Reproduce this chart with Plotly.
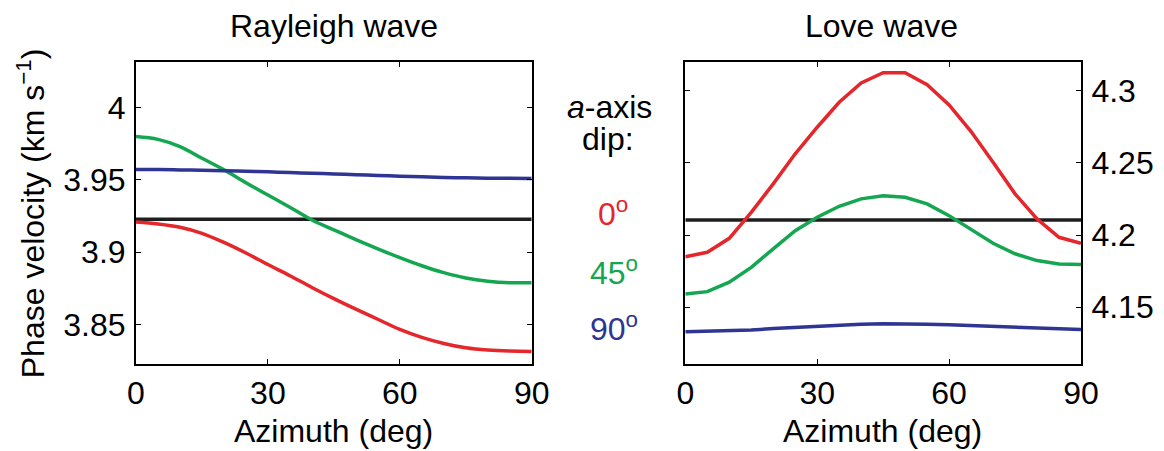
import plotly.graph_objects as go

# ---- data ----
azimuth = [0, 5, 10, 15, 20, 25, 30, 35, 40, 45, 50, 55, 60, 65, 70, 75, 80, 85, 90]

# Rayleigh wave phase velocity (km/s)
ray_dip0 = [3.9210, 3.9196, 3.9173, 3.9131, 3.9068, 3.8995, 3.8915, 3.8838, 3.8757, 3.8680,
            3.8607, 3.8537, 3.8467, 3.8412, 3.8370, 3.8340, 3.8324, 3.8317, 3.8315]
ray_dip45 = [3.9800, 3.9780, 3.9730, 3.9650, 3.9570, 3.9480, 3.9396, 3.9311, 3.9223, 3.9155,
             3.9088, 3.9024, 3.8963, 3.8907, 3.8859, 3.8822, 3.8800, 3.8790, 3.8790]
ray_dip90 = [3.9572, 3.9571, 3.9569, 3.9567, 3.9564, 3.9560, 3.9556, 3.9551, 3.9546, 3.9541,
             3.9536, 3.9531, 3.9526, 3.9521, 3.9517, 3.9514, 3.9512, 3.9511, 3.9510]
ray_iso = [3.9228] * len(azimuth)

# Love wave phase velocity (km/s)
love_dip0 = [4.1850, 4.1880, 4.1977, 4.2157, 4.2354, 4.2562, 4.2746, 4.2919, 4.3053, 4.3123,
             4.3123, 4.3040, 4.2900, 4.2716, 4.2503, 4.2285, 4.2111, 4.1984, 4.1943]
love_dip45 = [4.1592, 4.1608, 4.1673, 4.1776, 4.1904, 4.2030, 4.2123, 4.2199, 4.2250, 4.2272,
              4.2261, 4.2215, 4.2134, 4.2037, 4.1943, 4.1870, 4.1823, 4.1800, 4.1795]
love_dip90 = [4.1331, 4.1333, 4.1337, 4.1343, 4.1352, 4.1361, 4.1370, 4.1377, 4.1383, 4.1386,
              4.1386, 4.1383, 4.1378, 4.1372, 4.1365, 4.1358, 4.1352, 4.1348, 4.1345]
love_iso = [4.2104] * len(azimuth)

x_ticks = [0, 30, 60, 90]
ray_yticks = [3.85, 3.9, 3.95, 4.0]
ray_yticklabels = ["3.85", "3.9", "3.95", "4"]
love_yticks = [4.15, 4.2, 4.25, 4.3]
love_yticklabels = ["4.15", "4.2", "4.25", "4.3"]

dip_labels = ["0<sup>o</sup>", "45<sup>o</sup>", "90<sup>o</sup>"]

RED = "#e5262b"
GREEN = "#14a650"
BLUE = "#2e3592"
BLACK = "#1e1e1e"
FONT = "Liberation Sans, Arial, Helvetica, sans-serif"
FS = 32

fig = go.Figure()

def add(x, y, color, xa, ya, shape="linear"):
    fig.add_trace(go.Scatter(x=x, y=y, mode="lines", xaxis=xa, yaxis=ya,
                             line=dict(color=color, width=3.5, shape=shape),
                             showlegend=False, hoverinfo="skip"))

add(azimuth, ray_iso, BLACK, "x", "y")
add(azimuth, ray_dip0, RED, "x", "y", "spline")
add(azimuth, ray_dip45, GREEN, "x", "y", "spline")
add(azimuth, ray_dip90, BLUE, "x", "y", "spline")
add(azimuth, love_iso, BLACK, "x2", "y2")
add(azimuth, love_dip0, RED, "x2", "y2")
add(azimuth, love_dip45, GREEN, "x2", "y2")
add(azimuth, love_dip90, BLUE, "x2", "y2")

common_x = dict(range=[0, 90], tickvals=x_ticks, ticks="inside", ticklen=5, tickwidth=1,
                tickcolor="black", showline=True, linecolor="black", linewidth=2,
                mirror="allticks", showgrid=False, zeroline=False, automargin=False,
                tickfont=dict(family=FONT, size=FS, color="black"), ticklabelstandoff=0)
common_y = dict(ticks="inside", ticklen=5, tickwidth=1, tickcolor="black", showline=True,
                linecolor="black", linewidth=2, mirror="allticks", showgrid=False,
                zeroline=False, automargin=False,
                tickfont=dict(family=FONT, size=FS, color="black"), ticklabelstandoff=2)

W, H = 1156, 443

fig.update_layout(
    width=W, height=H,
    margin=dict(l=0, r=0, t=0, b=0, autoexpand=False),
    paper_bgcolor="white", plot_bgcolor="white",
    font=dict(family=FONT, size=FS, color="black"),
    xaxis=dict(domain=[0.11073, 0.45303], anchor="y", **common_x),
    yaxis=dict(domain=[0.19639, 0.87923], anchor="x", range=[3.8228, 4.0318],
               tickvals=ray_yticks, ticktext=ray_yticklabels, **common_y),
    xaxis2=dict(domain=[0.58590, 0.92820], anchor="y2", **common_x),
    yaxis2=dict(domain=[0.19639, 0.87923], anchor="x2", range=[4.1107, 4.3201], side="right",
                tickvals=love_yticks, ticktext=love_yticklabels, **common_y),
)

def note(text, x, y, color="black", angle=0):
    fig.add_annotation(text=text, x=x, y=y, xref="paper", yref="paper", showarrow=False,
                       xanchor="center", yanchor="middle", textangle=angle,
                       font=dict(family=FONT, size=FS, color=color))

note("Rayleigh wave", 0.2816, 0.9590)
note("Love wave", 0.7560, 0.9590)
note("Azimuth (deg)", 0.2816, 0.0451)
note("Azimuth (deg)", 0.7569, 0.0451)
note("Phase velocity (km s<sup>\u22121</sup>)", 0.0200, 0.537, angle=-90)
note("<i>a</i>-axis", 0.5199, 0.7770)
note("dip:", 0.5190, 0.7045)
note(dip_labels[0], 0.5234, 0.5395, RED)
note(dip_labels[1], 0.5242, 0.4060, GREEN)
note(dip_labels[2], 0.5242, 0.2800, BLUE)

fig.write_html("out.html")
